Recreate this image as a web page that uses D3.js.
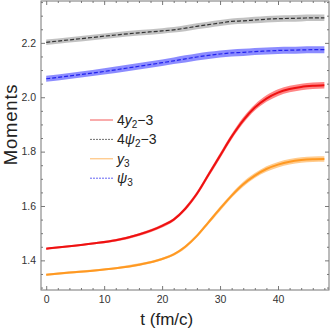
<!DOCTYPE html>
<html>
<head>
<meta charset="utf-8">
<script src="https://cdn.jsdelivr.net/npm/d3@7"></script>
<style>
  body { margin: 0; background: #fff; }
  svg { display: block; font-family: "Liberation Sans", Arial, sans-serif; }
  .axis path { display: none; }
  .axis line { stroke: #777; }
  .axis text { fill: #333; font-size: 10.5px; }
</style>
</head>
<body>
<div id="chart"></div>
<script>
// time grid (fm/c)
const times = [0, 4, 8, 12, 16, 20, 22, 24, 26, 28, 30, 32, 34, 36, 38, 40, 42, 44, 46, 48];

const redVals = [1.443, 1.452, 1.462, 1.474, 1.495, 1.527, 1.550, 1.590, 1.645, 1.715, 1.785, 1.855, 1.915, 1.962, 1.995, 2.017, 2.030, 2.038, 2.042, 2.044];
const grayVals = [2.202, 2.211, 2.220, 2.229, 2.237, 2.244, 2.248, 2.254, 2.261, 2.267, 2.273, 2.279, 2.281, 2.284, 2.287, 2.289, 2.290, 2.291, 2.292, 2.292];
const orangeVals = [1.347, 1.355, 1.362, 1.371, 1.384, 1.405, 1.422, 1.450, 1.490, 1.540, 1.590, 1.638, 1.680, 1.712, 1.736, 1.752, 1.763, 1.769, 1.772, 1.773];
const blueVals = [2.068, 2.078, 2.089, 2.101, 2.114, 2.127, 2.134, 2.141, 2.148, 2.154, 2.159, 2.163, 2.165, 2.168, 2.170, 2.172, 2.173, 2.174, 2.175, 2.175];

// half widths of the error bands
const redErr = [0.004, 0.004, 0.004, 0.005, 0.005, 0.006, 0.006, 0.007, 0.008, 0.009, 0.010, 0.010, 0.011, 0.011, 0.012, 0.012, 0.012, 0.012, 0.012, 0.012];
const grayErr = [0.010, 0.010, 0.010, 0.010, 0.010, 0.010, 0.010, 0.011, 0.011, 0.011, 0.011, 0.011, 0.011, 0.012, 0.012, 0.012, 0.012, 0.012, 0.012, 0.012];
const orangeErr = [0.004, 0.004, 0.004, 0.004, 0.005, 0.005, 0.005, 0.006, 0.006, 0.007, 0.008, 0.008, 0.009, 0.009, 0.010, 0.010, 0.010, 0.010, 0.010, 0.010];
const blueErr = [0.011, 0.011, 0.011, 0.012, 0.012, 0.012, 0.012, 0.013, 0.013, 0.013, 0.013, 0.013, 0.013, 0.013, 0.013, 0.013, 0.013, 0.013, 0.013, 0.013];

const xTicks = [0, 10, 20, 30, 40];
const yTicks = [1.4, 1.6, 1.8, 2.0, 2.2];

const series = [
    { label: ['4', 'y', '2', '−3'], vals: redVals, err: redErr, line: '#ee1111', band: '#ff3333', dash: null, lw: 2 },
    { label: ['4', 'ψ', '2', '−3'], vals: grayVals, err: grayErr, line: '#333333', band: '#999999', dash: '4,2', lw: 1.2 },
    { label: ['', 'y', '3', ''], vals: orangeVals, err: orangeErr, line: '#ff9922', band: '#ffaa44', dash: null, lw: 2 },
    { label: ['', 'ψ', '3', ''], vals: blueVals, err: blueErr, line: '#2222ee', band: '#3f3fff', dash: '4,2', lw: 1.2 }
];

const W = 332, H = 330;
const margin = { left: 41, right: 3, top: 1, bottom: 40 };
const width = W - margin.left - margin.right;
const height = H - margin.top - margin.bottom;

const svg = d3.select('#chart')
    .append('svg')
    .attr('width', W)
    .attr('height', H)
    .append('g')
    .attr('transform', `translate(${margin.left},${margin.top})`);

// Scales
const x = d3.scaleLinear().domain([-0.9, 48.8]).range([0, width]);
const y = d3.scaleLinear().domain([1.291, 2.354]).range([height, 0]);

// Bands then lines
series.forEach(s => {
    const pts = times.map((t, i) => ({ t: t, v: s.vals[i], e: s.err[i] }));
    const area = d3.area()
        .x(d => x(d.t))
        .y0(d => y(d.v - d.e))
        .y1(d => y(d.v + d.e))
        .curve(d3.curveMonotoneX);
    svg.append('path')
        .datum(pts)
        .attr('d', area)
        .attr('fill', s.band)
        .attr('fill-opacity', 0.6);
});

series.forEach(s => {
    const pts = times.map((t, i) => ({ t: t, v: s.vals[i] }));
    const line = d3.line()
        .x(d => x(d.t))
        .y(d => y(d.v))
        .curve(d3.curveMonotoneX);
    svg.append('path')
        .datum(pts)
        .attr('d', line)
        .attr('fill', 'none')
        .attr('stroke', s.line)
        .attr('stroke-width', s.lw)
        .attr('stroke-dasharray', s.dash);
});

// Frame with inward ticks on all sides
const xMinor = d3.range(0, 49, 2).filter(v => v % 10 !== 0);
const yMinor = d3.range(1.3, 2.36, 0.05).map(v => +v.toFixed(2)).filter(v => !yTicks.includes(v));

svg.append('g').attr('class', 'axis').attr('transform', `translate(0,${height})`)
    .call(d3.axisBottom(x).tickValues(xTicks).tickSize(-4).tickPadding(6).tickFormat(d3.format('d')));
svg.append('g').attr('class', 'axis').attr('transform', `translate(0,${height})`)
    .call(d3.axisBottom(x).tickValues(xMinor).tickSize(-2).tickFormat(''));
svg.append('g').attr('class', 'axis')
    .call(d3.axisTop(x).tickValues(xTicks).tickSize(-4).tickFormat(''));
svg.append('g').attr('class', 'axis')
    .call(d3.axisTop(x).tickValues(xMinor).tickSize(-2).tickFormat(''));

svg.append('g').attr('class', 'axis')
    .call(d3.axisLeft(y).tickValues(yTicks).tickSize(-4).tickPadding(5).tickFormat(d3.format('.1f')));
svg.append('g').attr('class', 'axis')
    .call(d3.axisLeft(y).tickValues(yMinor).tickSize(-2).tickFormat(''));
svg.append('g').attr('class', 'axis').attr('transform', `translate(${width},0)`)
    .call(d3.axisRight(y).tickValues(yTicks).tickSize(-4).tickFormat(''));
svg.append('g').attr('class', 'axis').attr('transform', `translate(${width},0)`)
    .call(d3.axisRight(y).tickValues(yMinor).tickSize(-2).tickFormat(''));

svg.append('rect')
    .attr('width', width)
    .attr('height', height)
    .attr('fill', 'none')
    .attr('stroke', '#777')
    .attr('stroke-width', 1);

// Axis labels
svg.append('text')
    .attr('x', x(20.8))
    .attr('y', height + 35)
    .attr('text-anchor', 'middle')
    .attr('font-size', 17)
    .attr('fill', '#222')
    .text('t (fm/c)');

svg.append('text')
    .attr('transform', `translate(${-24},${y(1.9)}) rotate(-90)`)
    .attr('text-anchor', 'middle')
    .attr('font-size', 18.5)
    .attr('letter-spacing', 0.8)
    .attr('fill', '#222')
    .text('Moments');

// Legend
const legend = svg.append('g').attr('transform', 'translate(49,119)');
series.forEach((s, i) => {
    const g = legend.append('g').attr('transform', `translate(0,${i * 19.4})`);
    g.append('line')
        .attr('x1', 0).attr('x2', 23)
        .attr('stroke', s.line)
        .attr('stroke-opacity', 0.7)
        .attr('stroke-width', 1)
        .attr('stroke-dasharray', s.dash ? '2,1' : null);
    const t = g.append('text')
        .attr('x', 27)
        .attr('y', 5)
        .attr('font-size', 14)
        .attr('fill', '#222');
    t.append('tspan').text(s.label[0]);
    t.append('tspan').attr('font-style', 'italic').text(s.label[1]);
    t.append('tspan').attr('font-size', 10).attr('dy', 3).text(s.label[2]);
    t.append('tspan').attr('dy', -3).text(s.label[3]);
});
</script>
</body>
</html>
